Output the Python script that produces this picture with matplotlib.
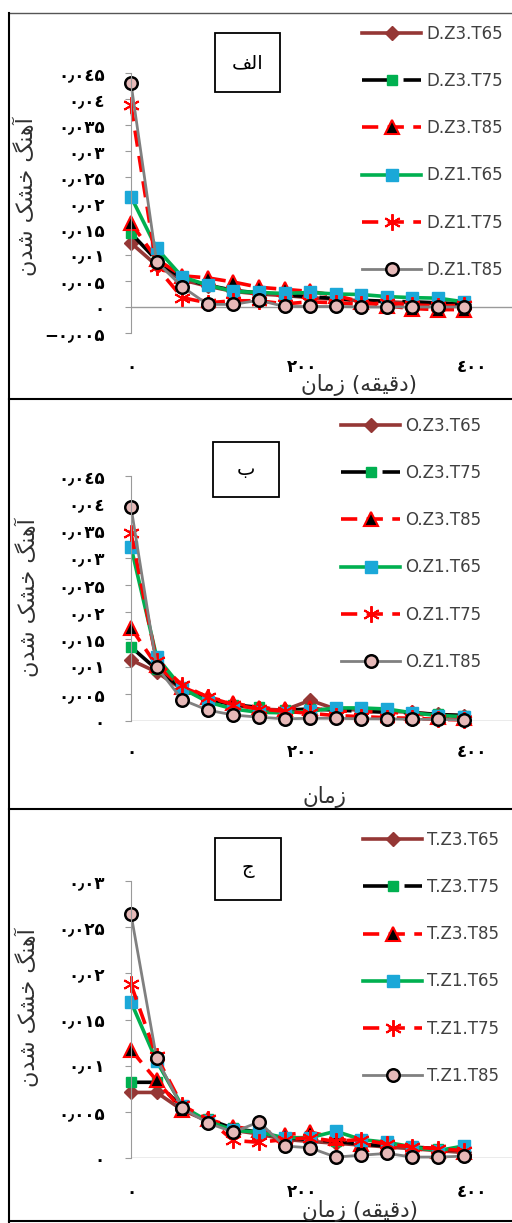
import matplotlib
matplotlib.use('Agg')
import matplotlib.pyplot as plt
from matplotlib.patches import Rectangle

# time axis (minutes)
time_min = [0, 30, 60, 90, 120, 150, 180, 210, 240, 270, 300, 330, 360, 390]

# panel 1 (D)
D_Z3_T65 = [0.0123, 0.0080, 0.0052, 0.0040, 0.0030, 0.0025, 0.0022, 0.0018, 0.0015, 0.0012, 0.0010, 0.0008, 0.0006, 0.0005]
D_Z3_T75 = [0.0142, 0.0090, 0.0055, 0.0042, 0.0032, 0.0027, 0.0023, 0.0020, 0.0016, 0.0013, 0.0011, 0.0010, 0.0008, 0.0006]
D_Z3_T85 = [0.0162, 0.0092, 0.0060, 0.0056, 0.0048, 0.0038, 0.0034, 0.0030, 0.0022, 0.0010, 0.0002, -0.0003, -0.0005, -0.0005]
D_Z1_T65 = [0.0212, 0.0113, 0.0058, 0.0042, 0.0030, 0.0028, 0.0026, 0.0028, 0.0025, 0.0024, 0.0020, 0.0018, 0.0017, 0.0010]
D_Z1_T75 = [0.0388, 0.0077, 0.0018, 0.0008, 0.0012, 0.0012, 0.0006, 0.0010, 0.0008, 0.0005, 0.0008, 0.0004, 0.0002, 0.0003]
D_Z1_T85 = [0.0430, 0.0087, 0.0039, 0.0005, 0.0005, 0.0013, 0.0001, 0.0001, 0.0001, 0.0000, 0.0000, 0.0000, 0.0000, 0.0000]

# panel 2 (O)
O_Z3_T65 = [0.0112, 0.0090, 0.0058, 0.0040, 0.0030, 0.0022, 0.0020, 0.0038, 0.0022, 0.0020, 0.0018, 0.0016, 0.0012, 0.0010]
O_Z3_T75 = [0.0136, 0.0095, 0.0060, 0.0040, 0.0030, 0.0025, 0.0020, 0.0022, 0.0020, 0.0018, 0.0016, 0.0015, 0.0012, 0.0010]
O_Z3_T85 = [0.0171, 0.0102, 0.0062, 0.0044, 0.0033, 0.0024, 0.0022, 0.0024, 0.0018, 0.0018, 0.0016, 0.0014, 0.0008, 0.0006]
O_Z1_T65 = [0.0320, 0.0118, 0.0060, 0.0035, 0.0022, 0.0016, 0.0015, 0.0018, 0.0024, 0.0024, 0.0022, 0.0015, 0.0010, 0.0008]
O_Z1_T75 = [0.0345, 0.0110, 0.0066, 0.0044, 0.0030, 0.0022, 0.0018, 0.0014, 0.0010, 0.0008, 0.0006, 0.0005, 0.0003, 0.0002]
O_Z1_T85 = [0.0393, 0.0100, 0.0039, 0.0020, 0.0011, 0.0007, 0.0004, 0.0005, 0.0005, 0.0004, 0.0004, 0.0003, 0.0003, 0.0002]

# panel 3 (T)
T_Z3_T65 = [0.0071, 0.0071, 0.0052, 0.0040, 0.0030, 0.0026, 0.0020, 0.0018, 0.0016, 0.0014, 0.0012, 0.0010, 0.0008, 0.0006]
T_Z3_T75 = [0.0082, 0.0082, 0.0055, 0.0042, 0.0032, 0.0028, 0.0022, 0.0020, 0.0018, 0.0015, 0.0013, 0.0012, 0.0010, 0.0008]
T_Z3_T85 = [0.0117, 0.0084, 0.0052, 0.0042, 0.0034, 0.0030, 0.0025, 0.0028, 0.0022, 0.0015, 0.0012, 0.0010, 0.0008, 0.0006]
T_Z1_T65 = [0.0169, 0.0105, 0.0056, 0.0040, 0.0030, 0.0028, 0.0022, 0.0022, 0.0029, 0.0020, 0.0017, 0.0012, 0.0008, 0.0013]
T_Z1_T75 = [0.0188, 0.0110, 0.0057, 0.0042, 0.0019, 0.0017, 0.0020, 0.0022, 0.0018, 0.0020, 0.0015, 0.0012, 0.0010, 0.0008]
T_Z1_T85 = [0.0264, 0.0108, 0.0054, 0.0038, 0.0028, 0.0039, 0.0013, 0.0011, 0.0001, 0.0003, 0.0005, 0.0001, 0.0001, 0.0002]

names_D = ['D.Z3.T65', 'D.Z3.T75', 'D.Z3.T85', 'D.Z1.T65', 'D.Z1.T75', 'D.Z1.T85']
names_O = ['O.Z3.T65', 'O.Z3.T75', 'O.Z3.T85', 'O.Z1.T65', 'O.Z1.T75', 'O.Z1.T85']
names_T = ['T.Z3.T65', 'T.Z3.T75', 'T.Z3.T85', 'T.Z1.T65', 'T.Z1.T75', 'T.Z1.T85']

yticks_D = [-0.005, 0, 0.005, 0.01, 0.015, 0.02, 0.025, 0.03, 0.035, 0.04, 0.045]
ylabels_D = ['−۰٫۰۰۵', '۰', '۰٫۰۰۵', '۰٫۰۱', '۰٫۰۱۵', '۰٫۰۲', '۰٫۰۲۵', '۰٫۰۳', '۰٫۰۳۵', '۰٫۰٤', '۰٫۰٤۵']
yticks_T = [0, 0.005, 0.01, 0.015, 0.02, 0.025, 0.03]
ylabels_T = ['۰', '۰٫۰۰۵', '۰٫۰۱', '۰٫۰۱۵', '۰٫۰۲', '۰٫۰۲۵', '۰٫۰۳']
xticks = [0, 200, 400]
xlabels = ['۰', '۲۰۰', '٤۰۰']

ylabel_text = 'آهنگ خشک شدن'
tags = ['الف', 'ب', 'ج']

# crude arabic shaping (matplotlib has no bidi / joining)
AR = {
    'آ': ('\uFE81', '\uFE82', None, None), 'ا': ('\uFE8D', '\uFE8E', None, None),
    'د': ('\uFEA9', '\uFEAA', None, None), 'ز': ('\uFEAF', '\uFEB0', None, None),
    'ه': ('\uFEE9', '\uFEEA', '\uFEEB', '\uFEEC'), 'ن': ('\uFEE5', '\uFEE6', '\uFEE7', '\uFEE8'),
    'گ': ('\uFB92', '\uFB93', '\uFB94', '\uFB95'), 'خ': ('\uFEA5', '\uFEA6', '\uFEA7', '\uFEA8'),
    'ش': ('\uFEB5', '\uFEB6', '\uFEB7', '\uFEB8'), 'ک': ('\uFB8E', '\uFB8F', '\uFB90', '\uFB91'),
    'م': ('\uFEE1', '\uFEE2', '\uFEE3', '\uFEE4'), 'ق': ('\uFED5', '\uFED6', '\uFED7', '\uFED8'),
    'ی': ('\uFBFC', '\uFBFD', '\uFBFE', '\uFBFF'), 'ل': ('\uFEDD', '\uFEDE', '\uFEDF', '\uFEE0'),
    'ف': ('\uFED1', '\uFED2', '\uFED3', '\uFED4'), 'ب': ('\uFE8F', '\uFE90', '\uFE91', '\uFE92'),
    'ج': ('\uFE9D', '\uFE9E', '\uFE9F', '\uFEA0'),
}


def shape(s):
    out = []
    for i, c in enumerate(s):
        f = AR.get(c)
        if f is None:
            out.append(c)
            continue
        prev = s[i - 1] if i > 0 else ''
        nxt = s[i + 1] if i + 1 < len(s) else ''
        jp = prev in AR and AR[prev][2] is not None
        jn = f[2] is not None and nxt in AR
        out.append(f[3] if (jp and jn) else f[1] if jp else f[2] if jn else f[0])
    return ''.join(reversed(out))


xlabel_full = shape('زمان') + ' (' + shape('دقیقه') + ')'
xlabel_short = shape('زمان')

plt.rcParams['font.family'] = ['DejaVu Sans']

styles = [
    dict(color='#953735', ls='-', lw=2.6, marker='D', ms=7, mfc='#953735', mec='#953735'),
    dict(color='black', ls=(0, (8.5, 3)), lw=2.6, marker='s', ms=7, mfc='#00B050', mec='#00B050'),
    dict(color='#FF0000', ls=(0, (4.5, 2.6)), lw=2.6, marker='^', ms=9.5, mfc='black', mec='#FF0000', mew=1.5),
    dict(color='#00B050', ls='-', lw=2.6, marker='s', ms=8, mfc='#1BA8D8', mec='#1BA8D8'),
    dict(color='#FF0000', ls=(0, (4.5, 2.6)), lw=2.6, marker=(6, 2, 0), ms=12, mfc='none', mec='#FF0000', mew=1.4),
    dict(color='#808080', ls='-', lw=2, marker='o', ms=9, mfc='#E6B9B8', mec='black', mew=1.8),
]

W, H = 512, 1223
fig = plt.figure(figsize=(W / 100, H / 100), dpi=100)
fig.patch.set_facecolor('white')


def px(x0, y0, x1, y1):
    return [x0 / W, 1 - y1 / H, (x1 - x0) / W, (y1 - y0) / H]


panels = [
    dict(series=[D_Z3_T65, D_Z3_T75, D_Z3_T85, D_Z1_T65, D_Z1_T75, D_Z1_T85], names=names_D,
         box=(131, 73, 512, 333), ylim=(-0.005, 0.045), yt=yticks_D, yl=ylabels_D, xpad=18,
         leg=(362, 25), tagbox=(215, 33, 280, 92), ylab=(25, 197), xlab=(359, 385), xl=xlabel_full),
    dict(series=[O_Z3_T65, O_Z3_T75, O_Z3_T85, O_Z1_T65, O_Z1_T75, O_Z1_T85], names=names_O,
         box=(131, 476, 512, 721), ylim=(0, 0.045), yt=yticks_D[1:], yl=ylabels_D[1:], xpad=16,
         leg=(341, 417), tagbox=(213, 442, 279, 497), ylab=(27, 598), xlab=(325, 797), xl=xlabel_short),
    dict(series=[T_Z3_T65, T_Z3_T75, T_Z3_T85, T_Z1_T65, T_Z1_T75, T_Z1_T85], names=names_T,
         box=(131, 881, 512, 1158), ylim=(0, 0.03), yt=yticks_T, yl=ylabels_T, xpad=18,
         leg=(363, 831), tagbox=(215, 838, 281, 900), ylab=(27, 1008), xlab=(360, 1211), xl=xlabel_full),
]

for k, p in enumerate(panels):
    ax = fig.add_axes(px(*p['box']))
    lines = []
    for vals, name, st in zip(p['series'], p['names'], styles):
        ln, = ax.plot(time_min, vals, label=name, clip_on=False, **st)
        lines.append(ln)
    ax.set_xlim(0, 446.7)
    ax.set_ylim(*p['ylim'])
    ax.axhline(0, color='#9a9a9a', lw=1, zorder=0)
    for s in ['top', 'right', 'bottom']:
        ax.spines[s].set_visible(False)
    ax.spines['left'].set_color('#9a9a9a')
    ax.set_yticks(p['yt'])
    ax.set_yticklabels(p['yl'], fontsize=12, fontweight='bold')
    ax.tick_params(axis='y', direction='out', length=4, color='#9a9a9a', pad=15)
    ax.set_xticks(xticks)
    ax.set_xticklabels(xlabels, fontsize=12, fontweight='bold')
    ax.tick_params(axis='x', length=0, pad=p['xpad'])
    ax.patch.set_alpha(0)

    lx, ly = p['leg']
    ax.legend(handles=lines, loc='upper left', bbox_to_anchor=(lx / W, 1 - ly / H),
              bbox_transform=fig.transFigure, frameon=False, fontsize=12,
              handlelength=3.55, handletextpad=0.3, labelspacing=1.75,
              borderpad=0, borderaxespad=0, labelcolor='#404040')

    x0, y0, x1, y1 = p['tagbox']
    fig.patches.append(Rectangle((x0 / W, 1 - y1 / H), (x1 - x0) / W, (y1 - y0) / H,
                                 transform=fig.transFigure, fill=True, facecolor='white',
                                 edgecolor='black', lw=1.3))
    fig.text((x0 + x1) / 2 / W, 1 - (y0 + y1) / 2 / H, shape(tags[k]),
             ha='center', va='center', fontsize=14)
    fig.text(p['ylab'][0] / W, 1 - p['ylab'][1] / H, shape(ylabel_text), rotation=90,
             ha='center', va='center', fontsize=16, color='#303030')
    fig.text(p['xlab'][0] / W, 1 - p['xlab'][1] / H, p['xl'], ha='center', va='center',
             fontsize=15.5, color='#303030')

# panel frames
fig.add_artist(plt.Line2D([9 / W, 1], [1 - 13 / H] * 2, transform=fig.transFigure, color='#555555', lw=1))
for yb in [399, 809, 1221]:
    fig.add_artist(plt.Line2D([9 / W, 1], [1 - yb / H] * 2, transform=fig.transFigure, color='black', lw=1.5))
fig.add_artist(plt.Line2D([9 / W] * 2, [1 - 13 / H, 0], transform=fig.transFigure, color='black', lw=1.5))

fig.savefig('out.png', dpi=100, facecolor='white')
